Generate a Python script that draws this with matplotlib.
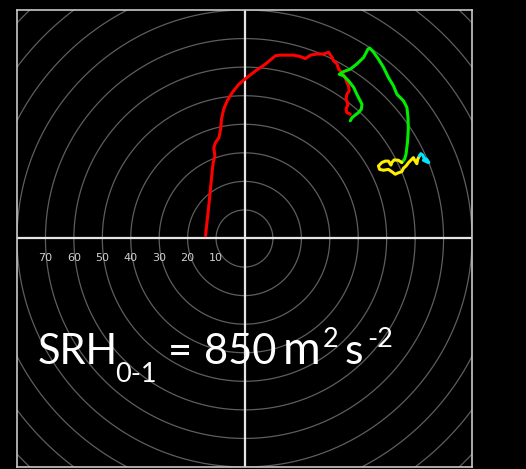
import matplotlib
matplotlib.use("Agg")
import matplotlib.pyplot as plt
import numpy as np

# ---- data (hodograph u, v in kt) ----
red_u = [-13.7, -12.5, -11.3, -11.0, -10.4, -10.8, -10.2, -9.0, -8.4, -8.1, -7.3, -6.1, -4.3,
         -2.0, 0.9, 3.9, 7.4, 10.9, 12.6, 17.3, 19.6, 21.4, 23.2, 25.5, 27.8, 29.6, 30.8,
         31.3, 32.5, 33.1, 34.3, 35.4, 36.0, 36.6, 36.8, 36.0, 35.7, 36.4, 35.7, 36.0, 37.2]
red_v = [1.0, 12.0, 24.2, 26.6, 28.9, 31.8, 33.6, 35.3, 38.2, 41.8, 45.3, 48.2, 51.1,
         54.0, 56.4, 58.7, 61.1, 64.0, 64.2, 64.2, 63.7, 63.0, 64.2, 64.6, 64.6, 65.2, 63.4,
         62.2, 61.1, 59.3, 58.1, 56.4, 54.6, 53.4, 51.7, 50.5, 48.8, 47.0, 45.3, 44.1, 43.5]

green_u = [37.2, 37.8, 38.9, 40.1, 41.1, 41.3, 40.7, 39.5, 38.4, 36.6, 34.8, 33.3, 34.8, 37.2,
           39.5, 41.9, 43.4, 44.0, 45.4, 47.1, 48.9, 50.6, 52.4, 53.6, 54.7, 55.9, 57.1, 57.5,
           57.6, 57.3, 56.8, 56.3, 55.3]
green_v = [41.2, 42.3, 43.2, 44.1, 45.3, 47.0, 48.2, 50.5, 52.9, 55.2, 57.0, 57.5, 58.4, 59.3,
           61.1, 63.4, 66.3, 66.7, 65.2, 62.8, 59.9, 56.4, 53.4, 50.5, 49.4, 48.2, 45.9, 42.3,
           38.2, 33.6, 29.5, 27.8, 26.6]

yellow_u = [55.3, 54.1, 52.6, 51.8, 51.5, 50.6, 49.5, 48.3, 47.1, 47.5, 48.9, 50.6, 51.8, 53.0,
            54.1, 55.3, 55.9, 56.8, 57.7, 58.8, 59.4, 60.0, 60.6, 60.9, 61.5]
yellow_v = [26.6, 27.4, 27.5, 26.6, 25.7, 27.1, 27.1, 26.6, 25.4, 24.2, 23.9, 24.2, 23.4, 22.5,
            23.0, 23.4, 24.6, 25.4, 26.6, 27.7, 28.3, 27.1, 26.2, 27.7, 28.9]

cyan_u = [61.5, 62.0, 62.7, 63.2, 64.1, 64.8, 63.9, 62.9]
cyan_v = [28.9, 29.7, 29.2, 28.1, 27.7, 26.6, 26.9, 27.4]

ring_radii = list(range(10, 130, 10))
ring_labels = [70, 60, 50, 40, 30, 20, 10]

W, H = 526, 469
fig = plt.figure(figsize=(W / 100, H / 100), dpi=100, facecolor="black")
ax = fig.add_axes([17 / W, 2 / H, 455 / W, 457 / H], facecolor="black")
ax.set_xlim(-80, 80)
ax.set_ylim(-80, 80)
ax.set_xticks([])
ax.set_yticks([])
for s in ax.spines.values():
    s.set_color("#c8c8c8")
    s.set_linewidth(1.2)

t = np.linspace(0, 2 * np.pi, 400)
for r in ring_radii:
    ax.plot(r * np.cos(t), r * np.sin(t), color="#5e5e5e", lw=0.9, zorder=1)

ax.axhline(0, color="#e6e6e6", lw=1.6, zorder=2)
ax.axvline(0, color="#e6e6e6", lw=1.6, zorder=2)

for lab in ring_labels:
    ax.text(-lab, -6.8, str(lab), color="#d0d0d0", fontsize=8, ha="center", va="center", zorder=3)

lw = 2.2
ax.plot(red_u, red_v, color="#ff0000", lw=lw, zorder=4, solid_capstyle="round", solid_joinstyle="round")
ax.plot(green_u, green_v, color="#00ee00", lw=lw, zorder=5, solid_capstyle="round", solid_joinstyle="round")
ax.plot(yellow_u, yellow_v, color="#ffee00", lw=lw, zorder=5, solid_capstyle="round", solid_joinstyle="round")
ax.plot(cyan_u, cyan_v, color="#00e5ff", lw=lw, zorder=6, solid_capstyle="round", solid_joinstyle="round")

def ftext(x, y, s, size):
    fig.text(x / W, 1 - y / H, s, color="white", fontsize=size, family=["Lato", "DejaVu Sans"],
             ha="left", va="baseline", zorder=10)

ftext(38, 364, "SRH", 30)
ftext(115, 381.5, "0-1", 19.5)
ftext(168, 364, "=", 30)
ftext(204, 364, "850", 30)
ftext(283, 364, "m", 33)
ftext(323, 346.5, "2", 19.5)
ftext(345, 364, "s", 31)
ftext(367, 346.5, "-2", 19.5)

fig.savefig("out.png", dpi=100, facecolor="black")
